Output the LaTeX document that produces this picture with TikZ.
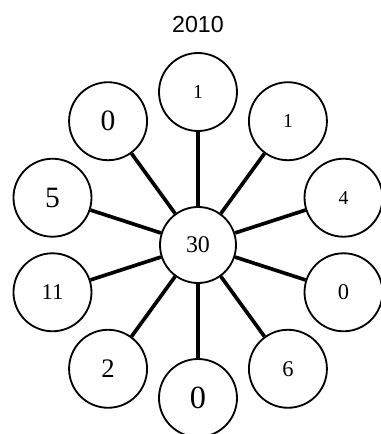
\documentclass[tikz,border=0pt]{standalone}
\usepackage{fontspec}
\setmainfont{Liberation Serif}
\newfontfamily\titlefont{Liberation Sans}
\usepackage{tikz}
\usetikzlibrary{positioning}

\begin{document}
\begin{tikzpicture}[
  hub/.style={circle, draw=black, line width=1.3pt, fill=white,
    minimum size=1.9cm, inner sep=0pt},
  leaf/.style={circle, draw=black, line width=1.3pt, fill=white,
    minimum size=1.95cm, inner sep=0pt},
  spoke/.style={line width=2.6pt, color=black},
  yeartitle/.style={font=\titlefont\fontsize{16.5}{18}\selectfont}
]
  \useasboundingbox (-4.95,-4.725) rectangle (4.575,6.125);

  % Hub and title
  \node[hub, font=\fontsize{17}{19}\selectfont] (hub) {30};
  \node[yeartitle] (title) at (0,5.5) {2010};

  % Leaves, counter-clockwise from the top
  \node[leaf, font=\fontsize{14}{16}\selectfont] (l90)  at (90:3.825)  {1};
  \node[leaf, font=\fontsize{21}{23}\selectfont] (l126) at (126:3.825) {0};
  \node[leaf, font=\fontsize{21}{23}\selectfont] (l162) at (162:3.825) {5};
  \node[leaf, font=\fontsize{16}{18}\selectfont] (l198) at (198:3.825) {11};
  \node[leaf, font=\fontsize{19}{21}\selectfont] (l234) at (234:3.825) {2};
  \node[leaf, font=\fontsize{23}{25}\selectfont] (l270) at (270:3.825) {0};
  \node[leaf, font=\fontsize{16}{18}\selectfont] (l306) at (306:3.825) {6};
  \node[leaf, font=\fontsize{16}{18}\selectfont] (l342) at (342:3.825) {0};
  \node[leaf, font=\fontsize{14}{16}\selectfont] (l18)  at (18:3.825)  {4};
  \node[leaf, font=\fontsize{14}{16}\selectfont] (l54)  at (54:3.825)  {1};

  % Spokes
  \draw[spoke] (hub) -- (l90);
  \draw[spoke] (hub) -- (l126);
  \draw[spoke] (hub) -- (l162);
  \draw[spoke] (hub) -- (l198);
  \draw[spoke] (hub) -- (l234);
  \draw[spoke] (hub) -- (l270);
  \draw[spoke] (hub) -- (l306);
  \draw[spoke] (hub) -- (l342);
  \draw[spoke] (hub) -- (l18);
  \draw[spoke] (hub) -- (l54);
\end{tikzpicture}
\end{document}
